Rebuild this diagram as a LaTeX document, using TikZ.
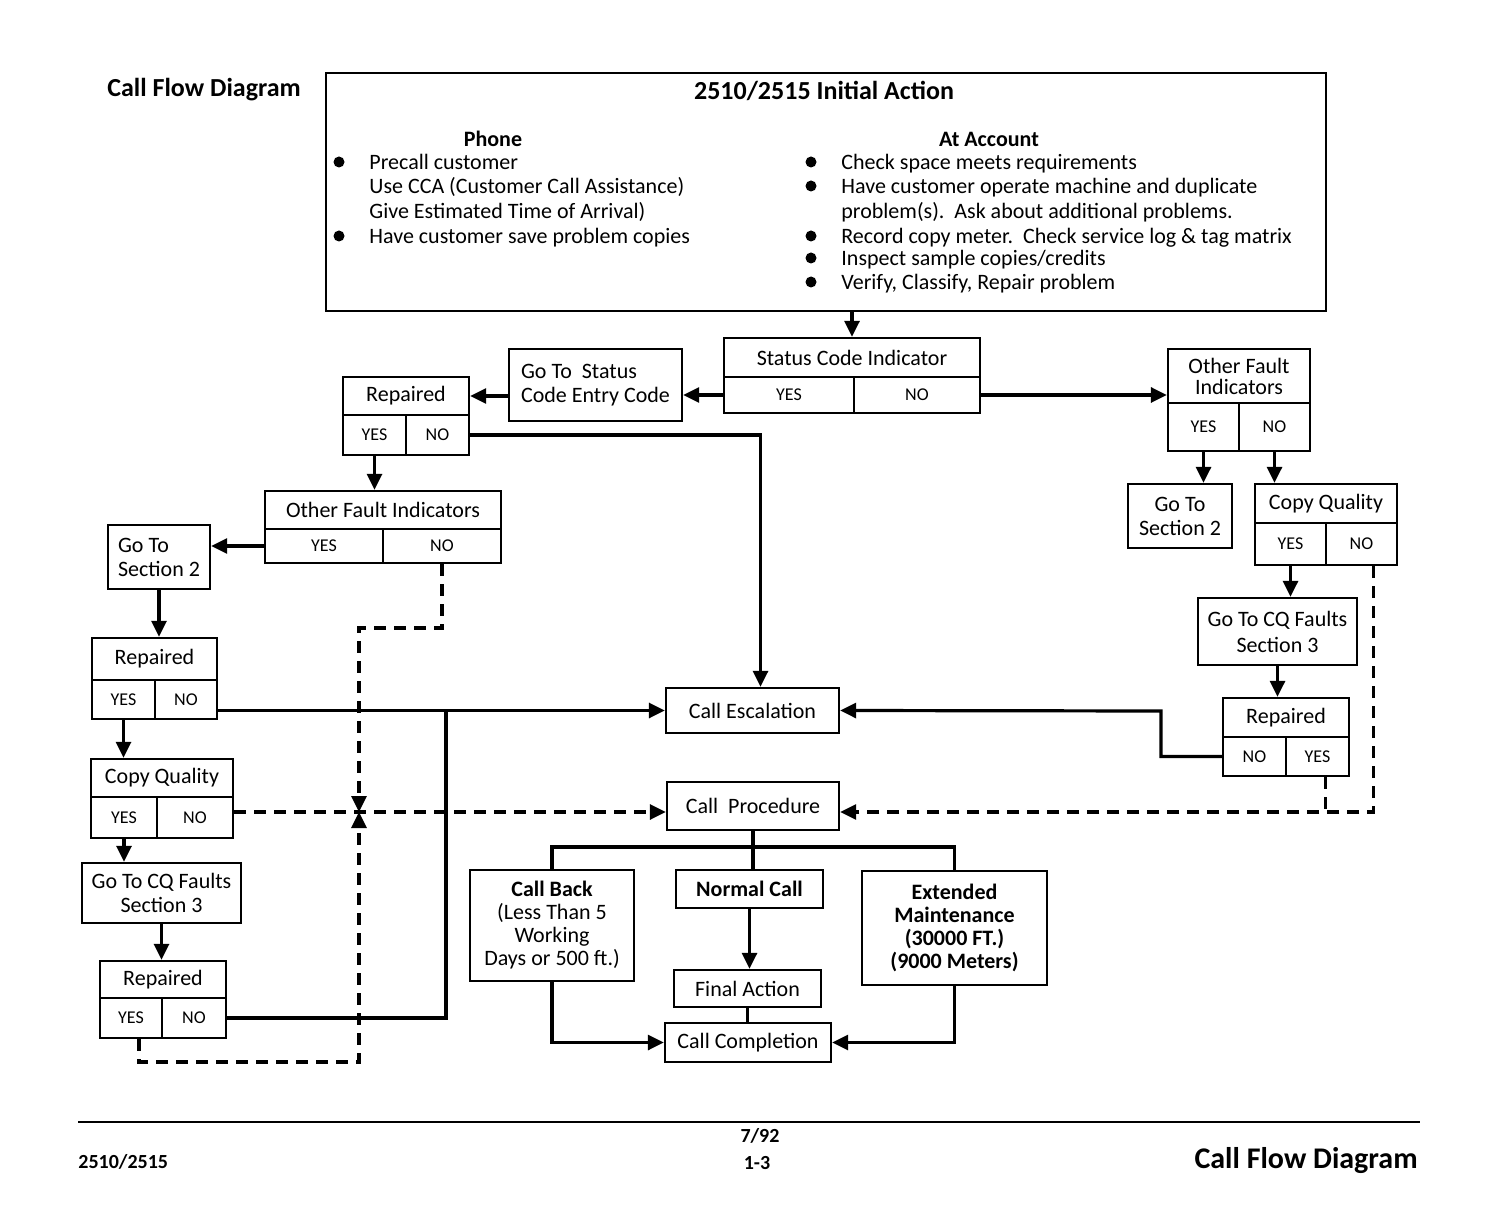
\documentclass[tikz,border=0pt]{standalone}
\usepackage{fontspec}
\setmainfont{Carlito}
\usetikzlibrary{arrows.meta}

\tikzset{
  corners/.style n args={4}{at={({(#1+#3)/2},{(#2+#4)/2})},
                            minimum width={(#3-#1)*0.5pt}, minimum height={(#4-#2)*0.5pt}},
  cell/.style={draw, line width=1.2pt, inner sep=0pt, align=center, font=\fontsize{11}{12}\selectfont},
  boldcell/.style={cell, font=\fontsize{11}{11.5}\selectfont\bfseries},
  yn/.style={cell, font=\fontsize{9}{10}\selectfont},
  txt/.style={font=\fontsize{11}{12}\selectfont, inner sep=0pt, anchor=mid west},
  head/.style={font=\fontsize{11}{12}\selectfont\bfseries, inner sep=0pt},
  link/.style={line width=1.6pt},
  flow/.style={link, -{Triangle[length=8pt,width=7.5pt]}},
  dashline/.style={line width=1.6pt, dash pattern=on 6pt off 4pt},
  dashflow/.style={dashline, -{Triangle[length=8pt,width=7.5pt]}},
}

\begin{document}
\begin{tikzpicture}[x=0.5pt, y=-0.5pt]
    \useasboundingbox (0,0) rectangle (1488,1213);

    % page title
    \node[head, font=\fontsize{13}{14}\selectfont\bfseries, anchor=mid west] (title) at (107,92) {Call Flow Diagram};

    % initial action box
    \node[cell, corners={326}{73}{1326}{311}] (init) {};
    \node[head, font=\fontsize{13}{14}\selectfont\bfseries] (initT) at (824,91) {2510/2515 Initial Action};
    \node[head] (phone) at (493,139) {Phone};
    \node[head] (acct) at (989,139) {At Account};
    \foreach \y/\t [count=\i] in {162/Precall customer, 186/Use CCA (Customer Call Assistance),
                                  211/Give Estimated Time of Arrival), 236/Have customer save problem copies}
        \node[txt] (ph\i) at (369,\y+3) {\t};
    \foreach \y/\t [count=\i] in {162/Check space meets requirements, 186/Have customer operate machine and duplicate,
                                  211/{problem(s).\ \ Ask about additional problems.},
                                  236/{Record copy meter.\ \ Check service log \& tag matrix},
                                  258/{Inspect sample copies/credits}, 282/{Verify, Classify, Repair problem}}
        \node[txt] (ac\i) at (841,\y+3) {\t};
    \foreach \x/\y in {339/162, 339/236, 811/162, 811/186, 811/236, 811/258, 811/282}
        \fill (\x,\y) circle (5.5);

    % status code indicator
    \node[cell, corners={724}{338}{980}{377}] (sciT) {Status Code Indicator};
    \node[yn, corners={724}{377}{854}{413}] (sciY) {YES};
    \node[yn, corners={854}{377}{980}{413}] (sciN) {NO};
    \node[cell, corners={509}{349}{682}{421}, align=left] (gts) {Go To\ \ Status\\Code Entry Code};

    % left branch
    \node[cell, corners={343}{377}{469}{415}] (rep1T) {Repaired};
    \node[yn, corners={343}{415}{406}{455}] (rep1Y) {YES};
    \node[yn, corners={406}{415}{469}{455}] (rep1N) {NO};

    \node[cell, corners={265}{491}{501}{529}] (ofiLT) {Other Fault Indicators};
    \node[yn, corners={265}{529}{383}{563}] (ofiLY) {YES};
    \node[yn, corners={383}{529}{501}{563}] (ofiLN) {NO};

    \node[cell, corners={108}{525}{210}{589}, align=left] (gs2L) {Go To\\Section 2};

    \node[cell, corners={92}{638}{217}{680}] (rep2T) {Repaired};
    \node[yn, corners={92}{680}{155}{719}] (rep2Y) {YES};
    \node[yn, corners={155}{680}{217}{719}] (rep2N) {NO};

    \node[cell, corners={91}{759}{233}{797}] (cqLT) {Copy Quality};
    \node[yn, corners={91}{797}{157}{838}] (cqLY) {YES};
    \node[yn, corners={157}{797}{233}{838}] (cqLN) {NO};

    \node[cell, corners={82}{863}{241}{923}] (gcqL) {Go To CQ Faults\\Section 3};

    \node[cell, corners={100}{961}{226}{998}] (rep3T) {Repaired};
    \node[yn, corners={100}{998}{162}{1038}] (rep3Y) {YES};
    \node[yn, corners={162}{998}{226}{1038}] (rep3N) {NO};

    % right branch
    \node[cell, corners={1168}{349}{1310}{403}, font=\fontsize{11}{10.5}\selectfont] (ofiRT) {Other Fault\\Indicators};
    \node[yn, corners={1168}{403}{1239}{451}] (ofiRY) {YES};
    \node[yn, corners={1239}{403}{1310}{451}] (ofiRN) {NO};

    \node[cell, corners={1128}{484}{1232}{548}] (gs2R) {Go To\\Section 2};

    \node[cell, corners={1255}{484}{1397}{523}] (cqRT) {Copy Quality};
    \node[yn, corners={1255}{523}{1326}{565}] (cqRY) {YES};
    \node[yn, corners={1326}{523}{1397}{565}] (cqRN) {NO};

    \node[cell, corners={1198}{598}{1357}{665}, font=\fontsize{11}{13}\selectfont] (gcqR) {Go To CQ Faults\\Section 3};

    \node[cell, corners={1223}{698}{1349}{737}] (repRT) {Repaired};
    \node[yn, corners={1223}{737}{1286}{776}] (repRN) {NO};
    \node[yn, corners={1286}{737}{1349}{776}] (repRY) {YES};

    % middle column
    \node[cell, corners={666}{688}{839}{733}] (esc) {Call Escalation};
    \node[cell, corners={667}{782}{839}{830}] (proc) {Call\ \ Procedure};
    \node[cell, corners={470}{870}{634}{981}, font=\fontsize{11}{11.5}\selectfont] (cb) {\textbf{Call Back}\\(Less Than 5\\Working\\Days or 500 ft.)};
    \node[boldcell, corners={676}{870}{823}{908}] (nc) {Normal Call};
    \node[boldcell, corners={862}{871}{1047}{985}] (ext) {Extended\\Maintenance\\(30000 FT.)\\(9000 Meters)};
    \node[cell, corners={674}{970}{821}{1007}] (fa) {Final Action};
    \node[cell, corners={665}{1023}{831}{1062}] (cc) {Call Completion};

    % bends
    \coordinate (jL) at (446,711);
    \coordinate (kinkA) at (359,628);
    \coordinate (kinkB) at (359,1062);
    \coordinate (dashX) at (359,812);
    \coordinate (kinkC) at (1161,711);
    \coordinate (dashR) at (1000,812);
    \coordinate (bus) at (752,847);

    % solid connectors
    \draw[flow] (init.south -| sciT.north) -- (sciT.north);
    \draw[flow] (sciY.west) -- (sciY.west -| gts.east);
    \draw[flow] (gts.west |- rep1T.east) -- (rep1T.east);
    \draw[flow] (rep1N.east) -| ([xshift=4pt]esc.north);
    \draw[flow] (rep1Y.south) -- (rep1Y.south |- ofiLT.north);
    \draw[flow] (ofiLY.west) -- (ofiLY.west -| gs2L.east);
    \draw[flow] (gs2L.south) -- (gs2L.south |- rep2T.north);
    \draw[flow] (rep2Y.south) -- (rep2Y.south |- cqLT.north);
    \draw[flow] (rep2N.east |- esc.west) -- (esc.west);
    \draw[link] (rep3N.east) -| (jL);
    \draw[flow] (cqLY.south) -- (cqLY.south |- gcqL.north);
    \draw[flow] (gcqL.south) -- (gcqL.south |- rep3T.north);

    \draw[flow] (sciN.east) -- (sciN.east -| ofiRT.west);
    \draw[flow] (ofiRY.south) -- (ofiRY.south |- gs2R.north);
    \draw[flow] (ofiRN.south) -- (ofiRN.south |- cqRT.north);
    \draw[flow] (cqRY.south) -- (cqRY.south |- gcqR.north);
    \draw[flow] (gcqR.south) -- (gcqR.south |- repRT.north);
    \draw[flow] (repRN.west) -| (kinkC) -- (esc.east);

    % dashed returns
    \draw[dashflow] (ofiLN.south) |- (kinkA) -- (dashX);
    \draw[dashflow] ([xshift=4pt]rep3Y.south) |- (kinkB) -- (dashX);
    \draw[dashflow] (cqLN.east |- dashX) -- (dashX -| proc.west);
    \draw[dashflow] ([xshift=6pt]cqRN.south) |- (dashR -| proc.east);
    \draw[dashline] ([xshift=4pt]repRY.south) -- ([xshift=4pt]repRY.south |- dashR);

    % call procedure tree
    \draw[link] (proc.south) -- (proc.south |- nc.north);
    \draw[link] (cb.north) |- (bus) -| (ext.north);
    \draw[flow] (nc.south) -- (nc.south |- fa.north);
    \draw[link] (fa.south) -- (fa.south |- cc.north);
    \draw[flow] (cb.south) |- (cc.west);
    \draw[flow] (ext.south) |- (cc.east);

    % footer
    \draw[line width=1.2pt] (78,1122) -- (1420,1122);
    \node[head, font=\fontsize{10}{10}\selectfont\bfseries] (date) at (760,1136) {7/92};
    \node[head, font=\fontsize{10}{10}\selectfont\bfseries] (page) at (757,1163) {1-3};
    \node[head, font=\fontsize{10}{10}\selectfont\bfseries, anchor=mid west] (model) at (78,1164) {2510/2515};
    \node[head, font=\fontsize{15}{16}\selectfont\bfseries, anchor=mid east] (foot) at (1418,1164) {Call Flow Diagram};
\end{tikzpicture}
\end{document}
